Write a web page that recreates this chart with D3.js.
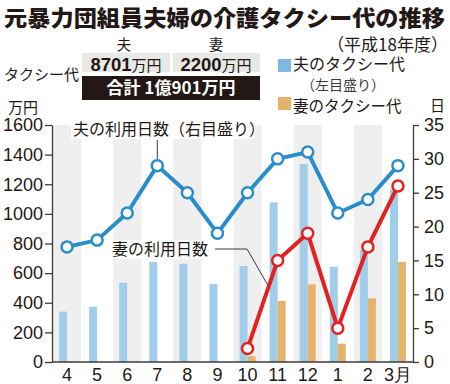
<!DOCTYPE html>
<html>
<head>
<meta charset="utf-8">
<script src="https://cdn.jsdelivr.net/npm/d3@7/dist/d3.min.js"></script>
<style>
    body { margin: 0; background: #fff; }
    svg text { font-family: "Noto Sans CJK JP", "Noto Sans", sans-serif; fill: #231815; }
    .num text, tspan.num { font-family: "Liberation Sans", Arial, sans-serif; }
</style>
</head>
<body>
<div class="graph"></div>
<script>
    // data
    const months = ["4", "5", "6", "7", "8", "9", "10", "11", "12", "1", "2", "3月"];
    const husbandCost = [340, 373, 535, 675, 662, 527, 648, 1078, 1337, 643, 756, 1166];
    const wifeCost = [null, null, null, null, null, null, 40, 412, 524, 124, 430, 675];
    const husbandDays = [17, 18, 22, 29, 25, 19, 25, 30, 31, 22, 24, 29];
    const wifeDays = [null, null, null, null, null, null, 2, 15, 19, 5, 17, 26];
    const leftTicks = [0, 200, 400, 600, 800, 1000, 1200, 1400, 1600];
    const rightTicks = [0, 5, 10, 15, 20, 25, 30, 35];

    const width = 450, height = 384;
    const blueBar = "#a0cdea", orangeBar = "#e6b36c";
    const blueLine = "#2a8dcb", redLine = "#e3211f";

    const svg = d3.select(".graph").append("svg")
        .attr("width", width)
        .attr("height", height);

    const x = d3.scaleBand().domain(months).range([52, 413]);
    const yL = d3.scaleLinear().domain([0, 1600]).range([362, 125]);
    const yR = d3.scaleLinear().domain([0, 35]).range([362, 125]);
    const bw = 8;

    // stripes
    svg.append("g").selectAll("rect")
        .data(months.filter((m, i) => i % 2 == 0))
        .join("rect")
        .attr("x", d => x(d) + 1)
        .attr("width", x.bandwidth() - 2)
        .attr("y", yL(1600))
        .attr("height", yL(0) - yL(1600))
        .attr("fill", "#efefef");

    // bars
    svg.append("g").selectAll("rect")
        .data(months)
        .join("rect")
        .attr("x", d => x(d) + x.bandwidth() / 2 - bw)
        .attr("width", bw)
        .attr("y", (d, i) => yL(husbandCost[i]))
        .attr("height", (d, i) => yL(0) - yL(husbandCost[i]))
        .attr("fill", blueBar);

    svg.append("g").selectAll("rect")
        .data(months.filter((m, i) => wifeCost[i] != null))
        .join("rect")
        .attr("x", d => x(d) + x.bandwidth() / 2)
        .attr("width", bw)
        .attr("y", d => yL(wifeCost[months.indexOf(d)]))
        .attr("height", d => yL(0) - yL(wifeCost[months.indexOf(d)]))
        .attr("fill", orangeBar);

    // axes
    const gL = svg.append("g").attr("class", "num")
        .attr("transform", "translate(52,0)")
        .call(d3.axisLeft(yL).tickValues(leftTicks).tickFormat(d3.format("d"))
            .tickSize(7).tickSizeOuter(0).tickPadding(2));
    const gR = svg.append("g").attr("class", "num")
        .attr("transform", "translate(413,0)")
        .call(d3.axisRight(yR).tickValues(rightTicks).tickSize(6).tickSizeOuter(0).tickPadding(5));
    [gL, gR].forEach(g => {
        g.selectAll("text").attr("font-size", 18).attr("fill", "#231815");
        g.selectAll("line, path").attr("stroke", "#3e3a39").attr("stroke-width", 1.3);
    });

    svg.append("line")
        .attr("x1", 52).attr("x2", 413)
        .attr("y1", yL(0)).attr("y2", yL(0))
        .attr("stroke", "#3e3a39").attr("stroke-width", 1.3);

    svg.append("g").attr("class", "num").selectAll("text")
        .data(months)
        .join("text")
        .attr("x", d => x(d) + x.bandwidth() / 2)
        .attr("y", 381)
        .attr("text-anchor", "middle")
        .attr("font-size", 18)
        .text(d => d);

    // annotations
    function note(txt, tx, ty, w) {
        svg.append("rect").attr("x", tx - 2).attr("y", ty - 15).attr("width", w + 4).attr("height", 19).attr("fill", "#fff");
        svg.append("text").attr("x", tx).attr("y", ty).attr("font-size", 16).text(txt);
    }
    note("夫の利用日数（右目盛り）", 73, 135, 180);
    svg.append("line")
        .attr("x1", x("7") + x.bandwidth() / 2).attr("x2", x("7") + x.bandwidth() / 2)
        .attr("y1", 140).attr("y2", yR(husbandDays[3]))
        .attr("stroke", "#3e3a39").attr("stroke-width", 1);
    note("妻の利用日数", 112, 255, 100);
    svg.append("polyline")
        .attr("points", "215,249 247,249 270,289")
        .attr("fill", "none")
        .attr("stroke", "#3e3a39").attr("stroke-width", 1);

    // lines
    function series(vals, color) {
        const pts = months.map((m, i) => ({m: m, v: vals[i]})).filter(d => d.v != null);
        svg.append("path")
            .datum(pts)
            .attr("fill", "none")
            .attr("stroke", color)
            .attr("stroke-width", 4)
            .attr("stroke-linejoin", "round")
            .attr("d", d3.line().x(d => x(d.m) + x.bandwidth() / 2).y(d => yR(d.v)));
        svg.append("g").selectAll("circle")
            .data(pts)
            .join("circle")
            .attr("cx", d => x(d.m) + x.bandwidth() / 2)
            .attr("cy", d => yR(d.v))
            .attr("r", 5.5)
            .attr("fill", "#fff")
            .attr("stroke", color)
            .attr("stroke-width", 2.5);
    }
    series(husbandDays, blueLine);
    series(wifeDays, redLine);

    // header
    svg.append("text").attr("x", 4).attr("y", 26)
        .attr("font-size", 22).attr("font-weight", 900)
        .attr("textLength", 441).attr("lengthAdjust", "spacingAndGlyphs")
        .text("元暴力団組員夫婦の介護タクシー代の推移");
    svg.append("text").attr("x", 448).attr("y", 51).attr("text-anchor", "end")
        .attr("font-size", 17).text("（平成18年度）");

    svg.append("text").attr("x", 124).attr("y", 50).attr("text-anchor", "middle").attr("font-size", 14.5).text("夫");
    svg.append("text").attr("x", 216).attr("y", 50).attr("text-anchor", "middle").attr("font-size", 14.5).text("妻");
    svg.append("text").attr("x", 4).attr("y", 80).attr("font-size", 15).text("タクシー代");

    svg.append("rect").attr("x", 82).attr("y", 53).attr("width", 88).attr("height", 19).attr("fill", "#e8e8e6");
    svg.append("rect").attr("x", 173).attr("y", 53).attr("width", 87).attr("height", 19).attr("fill", "#e8e8e6");
    svg.append("rect").attr("x", 82).attr("y", 76).attr("width", 178).attr("height", 24).attr("fill", "#231815");

    const t1 = svg.append("text").attr("x", 126).attr("y", 71).attr("text-anchor", "middle");
    t1.append("tspan").attr("class", "num").attr("font-size", 18.5).attr("font-weight", "bold").text("8701");
    t1.append("tspan").attr("font-size", 15).text("万円");
    const t2 = svg.append("text").attr("x", 216).attr("y", 71).attr("text-anchor", "middle");
    t2.append("tspan").attr("class", "num").attr("font-size", 18.5).attr("font-weight", "bold").text("2200");
    t2.append("tspan").attr("font-size", 15).text("万円");
    svg.append("text").attr("x", 171).attr("y", 94).attr("text-anchor", "middle")
        .attr("font-size", 17).attr("font-weight", "bold").style("fill", "#fff")
        .text("合計 1億901万円");

    // legend
    svg.append("rect").attr("x", 278).attr("y", 59).attr("width", 13).attr("height", 13).attr("fill", "#7fb9e2");
    svg.append("text").attr("x", 293).attr("y", 69.5).attr("font-size", 16).text("夫のタクシー代");
    svg.append("text").attr("x", 301).attr("y", 89.5).attr("font-size", 14).style("fill", "#3e3a39").text("（左目盛り）");
    svg.append("rect").attr("x", 278).attr("y", 97).attr("width", 13).attr("height", 13).attr("fill", orangeBar);
    svg.append("text").attr("x", 293).attr("y", 111.5).attr("font-size", 15.5).text("妻のタクシー代");
    svg.append("text").attr("x", 430).attr("y", 111).attr("font-size", 15).text("日");
    svg.append("text").attr("x", 8).attr("y", 113).attr("font-size", 15).text("万円");
</script>
</body>
</html>
